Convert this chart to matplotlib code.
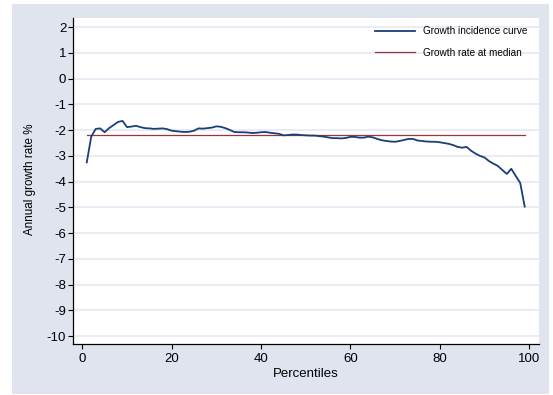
import matplotlib
matplotlib.use("Agg")
import matplotlib.pyplot as plt
from matplotlib.patches import Rectangle

plt.rcParams['font.family'] = ['Liberation Sans', 'DejaVu Sans']

# Annual growth rate (%) by percentile of the distribution
percentiles = list(range(1, 100))
growth = [
    -3.25, -2.25, -1.95, -1.93, -2.08, -1.92, -1.80, -1.68, -1.64, -1.88,
    -1.86, -1.83, -1.88, -1.92, -1.93, -1.95, -1.94, -1.93, -1.96, -2.02,
    -2.04, -2.06, -2.07, -2.06, -2.02, -1.93, -1.94, -1.92, -1.90, -1.85,
    -1.87, -1.92, -1.99, -2.07, -2.08, -2.08, -2.09, -2.11, -2.10, -2.08,
    -2.07, -2.10, -2.12, -2.14, -2.20, -2.19, -2.17, -2.17, -2.19, -2.20,
    -2.21, -2.21, -2.23, -2.25, -2.28, -2.31, -2.31, -2.32, -2.30, -2.26,
    -2.26, -2.29, -2.29, -2.25, -2.28, -2.34, -2.39, -2.42, -2.44, -2.45,
    -2.42, -2.38, -2.34, -2.34, -2.40, -2.42, -2.44, -2.45, -2.45, -2.47,
    -2.50, -2.53, -2.58, -2.65, -2.68, -2.65, -2.80, -2.91, -3.00, -3.06,
    -3.20, -3.30, -3.39, -3.55, -3.70, -3.50, -3.78, -4.05, -4.97,
]
median_growth = -2.2

y_ticks = list(range(-10, 3))
x_ticks = [0, 20, 40, 60, 80, 100]

navy = '#1a3f78'
maroon = '#97343c'
bg = '#dfe4ef'
grid_col = '#e3e7f1'

W, H = 553, 395
fig = plt.figure(figsize=(W / 100, H / 100), dpi=100, facecolor='white')

# outer shaded panel, kept behind the plot region
fig.patches.append(Rectangle((12 / W, 1 - 394 / H), (549 - 12) / W, (394 - 4) / H,
                             transform=fig.transFigure, facecolor=bg,
                             edgecolor='none', zorder=-10))

ax = fig.add_axes([73 / W, 1 - 344 / H, (539 - 73) / W, (344 - 18) / H])
ax.set_zorder(5)
ax.set_facecolor('white')

ax.plot(percentiles, growth, color=navy, lw=1.3, label='Growth incidence curve',
        zorder=3)
ax.plot([percentiles[0], percentiles[-1]], [median_growth, median_growth],
        color=maroon, lw=0.9, label='Growth rate at median', zorder=2)

ax.set_xlim(-2.08, 102.2)
ax.set_ylim(-10.31, 2.36)
ax.set_yticks(y_ticks)
ax.set_yticklabels([str(t) for t in y_ticks])
ax.set_xticks(x_ticks)
ax.set_xticklabels([str(t) for t in x_ticks])

for y in y_ticks:
    ax.axhline(y, color=grid_col, lw=1.1, zorder=1)

for side in ('top', 'right'):
    ax.spines[side].set_visible(False)
for side in ('left', 'bottom'):
    ax.spines[side].set_color('black')
    ax.spines[side].set_linewidth(0.9)

ax.tick_params(axis='both', direction='out', length=3.6, width=0.8,
               labelsize=9.5, colors='black')
ax.tick_params(axis='y', pad=1.3)
ax.tick_params(axis='x', pad=3)

fig.text(30 / W, 1 - 179 / H, 'Annual growth rate %', rotation=90,
         ha='center', va='center', fontsize=8.4)
fig.text(306 / W, 1 - 374 / H, 'Percentiles', ha='center', va='center',
         fontsize=9.5)

ax.legend(loc='upper left', bbox_to_anchor=(375 / W, 1 - 26 / H),
          bbox_transform=fig.transFigure, frameon=False, fontsize=7.2,
          handlelength=4.0, handletextpad=0.8, labelspacing=1.15,
          borderpad=0, borderaxespad=0)

fig.savefig('out.png', dpi=100, facecolor='white')
